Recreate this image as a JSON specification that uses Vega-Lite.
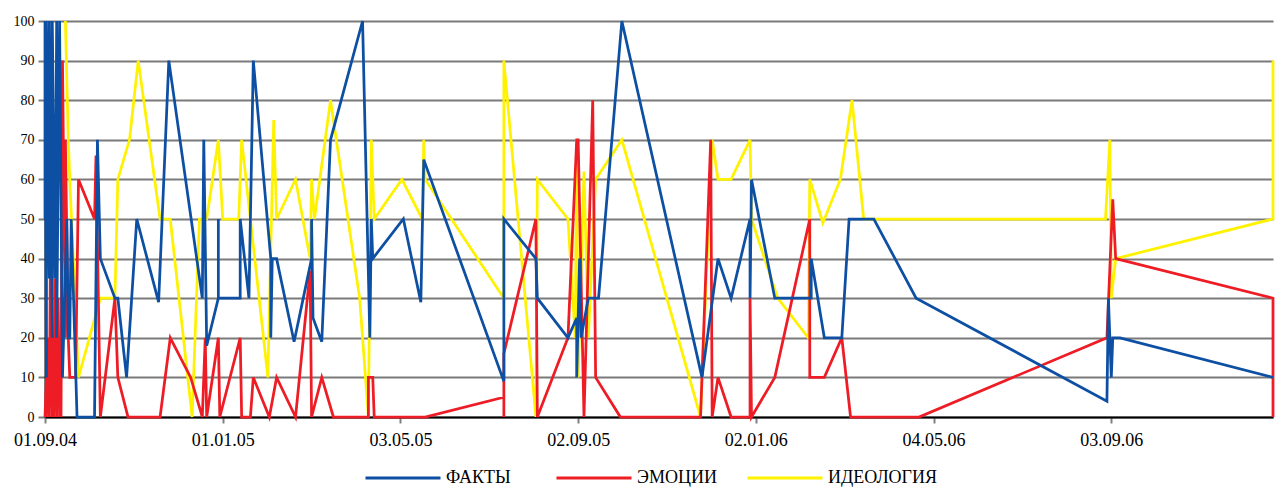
{
  "$schema": "https://vega.github.io/schema/vega-lite/v6.json",
  "width": 1228,
  "height": 396,
  "autosize": {"type": "none"},
  "padding": {"left": 45, "top": 21, "right": 2, "bottom": 72},
  "background": "white",
  "config": {"view": {"stroke": null}, "font": "Liberation Serif"},
  "data": {"values": [
    {"s":"ИДЕОЛОГИЯ","i":6,"d":"2004-09-15","v":100},
    {"s":"ИДЕОЛОГИЯ","i":7,"d":"2004-09-17","v":70},
    {"s":"ИДЕОЛОГИЯ","i":8,"d":"2004-09-18","v":60},
    {"s":"ИДЕОЛОГИЯ","i":9,"d":"2004-09-24","v":10},
    {"s":"ИДЕОЛОГИЯ","i":10,"d":"2004-10-09","v":30},
    {"s":"ИДЕОЛОГИЯ","i":11,"d":"2004-10-19","v":30},
    {"s":"ИДЕОЛОГИЯ","i":12,"d":"2004-10-21","v":60},
    {"s":"ИДЕОЛОГИЯ","i":13,"d":"2004-10-29","v":70},
    {"s":"ИДЕОЛОГИЯ","i":14,"d":"2004-11-04","v":90},
    {"s":"ИДЕОЛОГИЯ","i":15,"d":"2004-11-19","v":50},
    {"s":"ИДЕОЛОГИЯ","i":16,"d":"2004-11-26","v":50},
    {"s":"ИДЕОЛОГИЯ","i":17,"d":"2004-12-11","v":0},
    {"s":"ИДЕОЛОГИЯ","i":18,"d":"2004-12-16","v":50},
    {"s":"ИДЕОЛОГИЯ","i":19,"d":"2004-12-21","v":50},
    {"s":"ИДЕОЛОГИЯ","i":20,"d":"2004-12-29","v":70},
    {"s":"ИДЕОЛОГИЯ","i":21,"d":"2005-01-01","v":50},
    {"s":"ИДЕОЛОГИЯ","i":22,"d":"2005-01-12","v":50},
    {"s":"ИДЕОЛОГИЯ","i":23,"d":"2005-01-14","v":70},
    {"s":"ИДЕОЛОГИЯ","i":24,"d":"2005-02-01","v":10},
    {"s":"ИДЕОЛОГИЯ","i":25,"d":"2005-02-05","v":75},
    {"s":"ИДЕОЛОГИЯ","i":26,"d":"2005-02-07","v":50},
    {"s":"ИДЕОЛОГИЯ","i":27,"d":"2005-02-20","v":60},
    {"s":"ИДЕОЛОГИЯ","i":28,"d":"2005-03-02","v":40},
    {"s":"ИДЕОЛОГИЯ","i":29,"d":"2005-03-03","v":60},
    {"s":"ИДЕОЛОГИЯ","i":30,"d":"2005-03-05","v":50},
    {"s":"ИДЕОЛОГИЯ","i":31,"d":"2005-03-16","v":80},
    {"s":"ИДЕОЛОГИЯ","i":32,"d":"2005-04-05","v":30},
    {"s":"ИДЕОЛОГИЯ","i":33,"d":"2005-04-11","v":0},
    {"s":"ИДЕОЛОГИЯ","i":34,"d":"2005-04-13","v":70},
    {"s":"ИДЕОЛОГИЯ","i":35,"d":"2005-04-15","v":50},
    {"s":"ИДЕОЛОГИЯ","i":36,"d":"2005-05-04","v":60},
    {"s":"ИДЕОЛОГИЯ","i":37,"d":"2005-05-18","v":50},
    {"s":"ИДЕОЛОГИЯ","i":38,"d":"2005-05-19","v":70},
    {"s":"ИДЕОЛОГИЯ","i":39,"d":"2005-05-20","v":60},
    {"s":"ИДЕОЛОГИЯ","i":40,"d":"2005-07-13","v":30},
    {"s":"ИДЕОЛОГИЯ","i":41,"d":"2005-07-13","v":90},
    {"s":"ИДЕОЛОГИЯ","i":42,"d":"2005-08-04","v":0},
    {"s":"ИДЕОЛОГИЯ","i":43,"d":"2005-08-05","v":60},
    {"s":"ИДЕОЛОГИЯ","i":44,"d":"2005-08-26","v":50},
    {"s":"ИДЕОЛОГИЯ","i":45,"d":"2005-08-31","v":20},
    {"s":"ИДЕОЛОГИЯ","i":46,"d":"2005-09-01","v":70},
    {"s":"ИДЕОЛОГИЯ","i":47,"d":"2005-09-02","v":10},
    {"s":"ИДЕОЛОГИЯ","i":48,"d":"2005-09-06","v":62},
    {"s":"ИДЕОЛОГИЯ","i":49,"d":"2005-09-09","v":20},
    {"s":"ИДЕОЛОГИЯ","i":50,"d":"2005-09-14","v":60},
    {"s":"ИДЕОЛОГИЯ","i":51,"d":"2005-10-02","v":70},
    {"s":"ИДЕОЛОГИЯ","i":52,"d":"2005-11-25","v":0},
    {"s":"ИДЕОЛОГИЯ","i":53,"d":"2005-12-03","v":70},
    {"s":"ИДЕОЛОГИЯ","i":54,"d":"2005-12-07","v":60},
    {"s":"ИДЕОЛОГИЯ","i":55,"d":"2005-12-16","v":60},
    {"s":"ИДЕОЛОГИЯ","i":56,"d":"2005-12-29","v":70},
    {"s":"ИДЕОЛОГИЯ","i":57,"d":"2005-12-30","v":50},
    {"s":"ИДЕОЛОГИЯ","i":58,"d":"2006-01-17","v":30},
    {"s":"ИДЕОЛОГИЯ","i":59,"d":"2006-02-07","v":20},
    {"s":"ИДЕОЛОГИЯ","i":60,"d":"2006-02-08","v":60},
    {"s":"ИДЕОЛОГИЯ","i":61,"d":"2006-02-17","v":49},
    {"s":"ИДЕОЛОГИЯ","i":62,"d":"2006-03-01","v":60},
    {"s":"ИДЕОЛОГИЯ","i":63,"d":"2006-03-09","v":80},
    {"s":"ИДЕОЛОГИЯ","i":64,"d":"2006-03-17","v":50},
    {"s":"ИДЕОЛОГИЯ","i":65,"d":"2006-08-30","v":50},
    {"s":"ИДЕОЛОГИЯ","i":66,"d":"2006-09-02","v":70},
    {"s":"ИДЕОЛОГИЯ","i":67,"d":"2006-09-03","v":30},
    {"s":"ИДЕОЛОГИЯ","i":68,"d":"2006-09-06","v":40},
    {"s":"ИДЕОЛОГИЯ","i":69,"d":"2006-12-23","v":50},
    {"s":"ИДЕОЛОГИЯ","i":70,"d":"2006-12-23","v":90},

    {"s":"ЭМОЦИИ","i":1,"d":"2004-09-01","v":0},
    {"s":"ЭМОЦИИ","i":2,"d":"2004-09-02","v":10},
    {"s":"ЭМОЦИИ","i":3,"d":"2004-09-02","v":0},
    {"s":"ЭМОЦИИ","i":4,"d":"2004-09-03","v":20},
    {"s":"ЭМОЦИИ","i":5,"d":"2004-09-04","v":0},
    {"s":"ЭМОЦИИ","i":6,"d":"2004-09-05","v":60},
    {"s":"ЭМОЦИИ","i":7,"d":"2004-09-06","v":0},
    {"s":"ЭМОЦИИ","i":8,"d":"2004-09-06","v":20},
    {"s":"ЭМОЦИИ","i":9,"d":"2004-09-07","v":0},
    {"s":"ЭМОЦИИ","i":10,"d":"2004-09-08","v":35},
    {"s":"ЭМОЦИИ","i":11,"d":"2004-09-09","v":0},
    {"s":"ЭМОЦИИ","i":12,"d":"2004-09-09","v":20},
    {"s":"ЭМОЦИИ","i":13,"d":"2004-09-10","v":30},
    {"s":"ЭМОЦИИ","i":14,"d":"2004-09-11","v":0},
    {"s":"ЭМОЦИИ","i":15,"d":"2004-09-11","v":20},
    {"s":"ЭМОЦИИ","i":16,"d":"2004-09-12","v":0},
    {"s":"ЭМОЦИИ","i":17,"d":"2004-09-13","v":90},
    {"s":"ЭМОЦИИ","i":18,"d":"2004-09-15","v":20},
    {"s":"ЭМОЦИИ","i":19,"d":"2004-09-15","v":70},
    {"s":"ЭМОЦИИ","i":20,"d":"2004-09-17","v":20},
    {"s":"ЭМОЦИИ","i":21,"d":"2004-09-18","v":10},
    {"s":"ЭМОЦИИ","i":22,"d":"2004-09-22","v":10},
    {"s":"ЭМОЦИИ","i":23,"d":"2004-09-24","v":60},
    {"s":"ЭМОЦИИ","i":24,"d":"2004-10-05","v":50},
    {"s":"ЭМОЦИИ","i":25,"d":"2004-10-06","v":66},
    {"s":"ЭМОЦИИ","i":26,"d":"2004-10-09","v":0},
    {"s":"ЭМОЦИИ","i":27,"d":"2004-10-19","v":30},
    {"s":"ЭМОЦИИ","i":28,"d":"2004-10-21","v":10},
    {"s":"ЭМОЦИИ","i":29,"d":"2004-10-28","v":0},
    {"s":"ЭМОЦИИ","i":30,"d":"2004-11-19","v":0},
    {"s":"ЭМОЦИИ","i":31,"d":"2004-11-26","v":20},
    {"s":"ЭМОЦИИ","i":32,"d":"2004-12-10","v":10},
    {"s":"ЭМОЦИИ","i":33,"d":"2004-12-18","v":0},
    {"s":"ЭМОЦИИ","i":34,"d":"2004-12-20","v":20},
    {"s":"ЭМОЦИИ","i":35,"d":"2004-12-21","v":0},
    {"s":"ЭМОЦИИ","i":36,"d":"2004-12-29","v":20},
    {"s":"ЭМОЦИИ","i":37,"d":"2004-12-30","v":0},
    {"s":"ЭМОЦИИ","i":38,"d":"2005-01-13","v":20},
    {"s":"ЭМОЦИИ","i":39,"d":"2005-01-14","v":0},
    {"s":"ЭМОЦИИ","i":40,"d":"2005-01-20","v":0},
    {"s":"ЭМОЦИИ","i":41,"d":"2005-01-22","v":10},
    {"s":"ЭМОЦИИ","i":42,"d":"2005-02-02","v":0},
    {"s":"ЭМОЦИИ","i":43,"d":"2005-02-07","v":10},
    {"s":"ЭМОЦИИ","i":44,"d":"2005-02-20","v":0},
    {"s":"ЭМОЦИИ","i":45,"d":"2005-03-02","v":37},
    {"s":"ЭМОЦИИ","i":46,"d":"2005-03-03","v":0},
    {"s":"ЭМОЦИИ","i":47,"d":"2005-03-10","v":10},
    {"s":"ЭМОЦИИ","i":48,"d":"2005-03-18","v":0},
    {"s":"ЭМОЦИИ","i":49,"d":"2005-04-11","v":0},
    {"s":"ЭМОЦИИ","i":50,"d":"2005-04-11","v":10},
    {"s":"ЭМОЦИИ","i":51,"d":"2005-04-14","v":10},
    {"s":"ЭМОЦИИ","i":52,"d":"2005-04-15","v":0},
    {"s":"ЭМОЦИИ","i":53,"d":"2005-05-20","v":0},
    {"s":"ЭМОЦИИ","i":54,"d":"2005-07-13","v":5},
    {"s":"ЭМОЦИИ","i":55,"d":"2005-07-13","v":0},
    {"s":"ЭМОЦИИ","i":56,"d":"2005-07-13","v":16},
    {"s":"ЭМОЦИИ","i":57,"d":"2005-08-04","v":50},
    {"s":"ЭМОЦИИ","i":58,"d":"2005-08-05","v":0},
    {"s":"ЭМОЦИИ","i":59,"d":"2005-08-26","v":20},
    {"s":"ЭМОЦИИ","i":60,"d":"2005-09-01","v":70},
    {"s":"ЭМОЦИИ","i":61,"d":"2005-09-02","v":70},
    {"s":"ЭМОЦИИ","i":62,"d":"2005-09-06","v":0},
    {"s":"ЭМОЦИИ","i":63,"d":"2005-09-12","v":80},
    {"s":"ЭМОЦИИ","i":64,"d":"2005-09-14","v":10},
    {"s":"ЭМОЦИИ","i":65,"d":"2005-10-01","v":0},
    {"s":"ЭМОЦИИ","i":66,"d":"2005-11-25","v":0},
    {"s":"ЭМОЦИИ","i":67,"d":"2005-12-02","v":70},
    {"s":"ЭМОЦИИ","i":68,"d":"2005-12-03","v":0},
    {"s":"ЭМОЦИИ","i":69,"d":"2005-12-07","v":10},
    {"s":"ЭМОЦИИ","i":70,"d":"2005-12-16","v":0},
    {"s":"ЭМОЦИИ","i":71,"d":"2005-12-29","v":0},
    {"s":"ЭМОЦИИ","i":72,"d":"2005-12-29","v":30},
    {"s":"ЭМОЦИИ","i":73,"d":"2005-12-30","v":0},
    {"s":"ЭМОЦИИ","i":74,"d":"2006-01-15","v":10},
    {"s":"ЭМОЦИИ","i":75,"d":"2006-02-08","v":50},
    {"s":"ЭМОЦИИ","i":76,"d":"2006-02-08","v":10},
    {"s":"ЭМОЦИИ","i":77,"d":"2006-02-18","v":10},
    {"s":"ЭМОЦИИ","i":78,"d":"2006-03-02","v":20},
    {"s":"ЭМОЦИИ","i":79,"d":"2006-03-08","v":0},
    {"s":"ЭМОЦИИ","i":80,"d":"2006-04-24","v":0},
    {"s":"ЭМОЦИИ","i":81,"d":"2006-08-31","v":20},
    {"s":"ЭМОЦИИ","i":82,"d":"2006-09-04","v":55},
    {"s":"ЭМОЦИИ","i":83,"d":"2006-09-06","v":40},
    {"s":"ЭМОЦИИ","i":84,"d":"2006-12-23","v":30},
    {"s":"ЭМОЦИИ","i":85,"d":"2006-12-23","v":0},

    {"s":"ФАКТЫ","i":1,"d":"2004-09-01","v":50},
    {"s":"ФАКТЫ","i":2,"d":"2004-09-01","v":100},
    {"s":"ФАКТЫ","i":3,"d":"2004-09-02","v":10},
    {"s":"ФАКТЫ","i":4,"d":"2004-09-02","v":100},
    {"s":"ФАКТЫ","i":5,"d":"2004-09-04","v":35},
    {"s":"ФАКТЫ","i":6,"d":"2004-09-04","v":100},
    {"s":"ФАКТЫ","i":7,"d":"2004-09-06","v":20},
    {"s":"ФАКТЫ","i":8,"d":"2004-09-06","v":100},
    {"s":"ФАКТЫ","i":9,"d":"2004-09-08","v":35},
    {"s":"ФАКТЫ","i":10,"d":"2004-09-09","v":100},
    {"s":"ФАКТЫ","i":11,"d":"2004-09-09","v":20},
    {"s":"ФАКТЫ","i":12,"d":"2004-09-11","v":100},
    {"s":"ФАКТЫ","i":13,"d":"2004-09-13","v":10},
    {"s":"ФАКТЫ","i":14,"d":"2004-09-16","v":50},
    {"s":"ФАКТЫ","i":15,"d":"2004-09-17","v":20},
    {"s":"ФАКТЫ","i":16,"d":"2004-09-18","v":20},
    {"s":"ФАКТЫ","i":17,"d":"2004-09-19","v":50},
    {"s":"ФАКТЫ","i":18,"d":"2004-09-23","v":0},
    {"s":"ФАКТЫ","i":19,"d":"2004-10-05","v":0},
    {"s":"ФАКТЫ","i":20,"d":"2004-10-07","v":70},
    {"s":"ФАКТЫ","i":21,"d":"2004-10-09","v":40},
    {"s":"ФАКТЫ","i":22,"d":"2004-10-19","v":30},
    {"s":"ФАКТЫ","i":23,"d":"2004-10-21","v":30},
    {"s":"ФАКТЫ","i":24,"d":"2004-10-27","v":10},
    {"s":"ФАКТЫ","i":25,"d":"2004-11-03","v":50},
    {"s":"ФАКТЫ","i":26,"d":"2004-11-18","v":29},
    {"s":"ФАКТЫ","i":27,"d":"2004-11-25","v":90},
    {"s":"ФАКТЫ","i":28,"d":"2004-12-18","v":30},
    {"s":"ФАКТЫ","i":29,"d":"2004-12-19","v":70},
    {"s":"ФАКТЫ","i":30,"d":"2004-12-21","v":18},
    {"s":"ФАКТЫ","i":31,"d":"2004-12-29","v":30},
    {"s":"ФАКТЫ","i":32,"d":"2004-12-29","v":50},
    {"s":"ФАКТЫ","i":33,"d":"2004-12-29","v":30},
    {"s":"ФАКТЫ","i":34,"d":"2005-01-13","v":30},
    {"s":"ФАКТЫ","i":35,"d":"2005-01-13","v":50},
    {"s":"ФАКТЫ","i":36,"d":"2005-01-19","v":30},
    {"s":"ФАКТЫ","i":37,"d":"2005-01-22","v":90},
    {"s":"ФАКТЫ","i":38,"d":"2005-02-03","v":40},
    {"s":"ФАКТЫ","i":39,"d":"2005-02-03","v":20},
    {"s":"ФАКТЫ","i":40,"d":"2005-02-04","v":40},
    {"s":"ФАКТЫ","i":41,"d":"2005-02-07","v":40},
    {"s":"ФАКТЫ","i":42,"d":"2005-02-19","v":19},
    {"s":"ФАКТЫ","i":43,"d":"2005-03-03","v":40},
    {"s":"ФАКТЫ","i":44,"d":"2005-03-03","v":50},
    {"s":"ФАКТЫ","i":45,"d":"2005-03-04","v":25},
    {"s":"ФАКТЫ","i":46,"d":"2005-03-10","v":19},
    {"s":"ФАКТЫ","i":47,"d":"2005-03-16","v":70},
    {"s":"ФАКТЫ","i":48,"d":"2005-04-07","v":100},
    {"s":"ФАКТЫ","i":49,"d":"2005-04-12","v":20},
    {"s":"ФАКТЫ","i":50,"d":"2005-04-13","v":50},
    {"s":"ФАКТЫ","i":51,"d":"2005-04-14","v":40},
    {"s":"ФАКТЫ","i":52,"d":"2005-05-05","v":50},
    {"s":"ФАКТЫ","i":53,"d":"2005-05-17","v":29},
    {"s":"ФАКТЫ","i":54,"d":"2005-05-19","v":65},
    {"s":"ФАКТЫ","i":55,"d":"2005-07-13","v":9},
    {"s":"ФАКТЫ","i":56,"d":"2005-07-13","v":50},
    {"s":"ФАКТЫ","i":57,"d":"2005-08-04","v":40},
    {"s":"ФАКТЫ","i":58,"d":"2005-08-05","v":30},
    {"s":"ФАКТЫ","i":59,"d":"2005-08-26","v":20},
    {"s":"ФАКТЫ","i":60,"d":"2005-09-01","v":25},
    {"s":"ФАКТЫ","i":61,"d":"2005-09-01","v":10},
    {"s":"ФАКТЫ","i":62,"d":"2005-09-03","v":40},
    {"s":"ФАКТЫ","i":63,"d":"2005-09-04","v":20},
    {"s":"ФАКТЫ","i":64,"d":"2005-09-09","v":30},
    {"s":"ФАКТЫ","i":65,"d":"2005-09-16","v":30},
    {"s":"ФАКТЫ","i":66,"d":"2005-10-02","v":100},
    {"s":"ФАКТЫ","i":67,"d":"2005-11-26","v":10},
    {"s":"ФАКТЫ","i":68,"d":"2005-12-07","v":40},
    {"s":"ФАКТЫ","i":69,"d":"2005-12-16","v":30},
    {"s":"ФАКТЫ","i":70,"d":"2005-12-29","v":50},
    {"s":"ФАКТЫ","i":71,"d":"2005-12-29","v":30},
    {"s":"ФАКТЫ","i":72,"d":"2005-12-30","v":60},
    {"s":"ФАКТЫ","i":73,"d":"2006-01-15","v":30},
    {"s":"ФАКТЫ","i":74,"d":"2006-02-09","v":30},
    {"s":"ФАКТЫ","i":75,"d":"2006-02-09","v":40},
    {"s":"ФАКТЫ","i":76,"d":"2006-02-18","v":20},
    {"s":"ФАКТЫ","i":77,"d":"2006-03-02","v":20},
    {"s":"ФАКТЫ","i":78,"d":"2006-03-07","v":50},
    {"s":"ФАКТЫ","i":79,"d":"2006-03-24","v":50},
    {"s":"ФАКТЫ","i":80,"d":"2006-04-22","v":30},
    {"s":"ФАКТЫ","i":81,"d":"2006-08-31","v":4},
    {"s":"ФАКТЫ","i":82,"d":"2006-09-01","v":30},
    {"s":"ФАКТЫ","i":83,"d":"2006-09-03","v":10},
    {"s":"ФАКТЫ","i":84,"d":"2006-09-04","v":20},
    {"s":"ФАКТЫ","i":85,"d":"2006-09-09","v":20},
    {"s":"ФАКТЫ","i":86,"d":"2006-12-23","v":10}
  ]},
  "mark": {"type": "line", "strokeWidth": 2.75, "strokeJoin": "miter"},
  "encoding": {
    "x": {
      "field": "d", "type": "temporal",
      "scale": {"type": "utc", "domain": [{"year": 2004, "month": 9, "date": 1, "utc": true}, {"year": 2006, "month": 12, "date": 23, "utc": true}]},
      "axis": {
        "title": null, "grid": false, "format": "%d.%m.%y",
        "values": [
          {"year": 2004, "month": 9, "date": 1, "utc": true},
          {"year": 2005, "month": 1, "date": 1, "utc": true},
          {"year": 2005, "month": 5, "date": 3, "utc": true},
          {"year": 2005, "month": 9, "date": 2, "utc": true},
          {"year": 2006, "month": 1, "date": 2, "utc": true},
          {"year": 2006, "month": 5, "date": 4, "utc": true},
          {"year": 2006, "month": 9, "date": 3, "utc": true}
        ],
        "labelFont": "Liberation Serif", "labelFontSize": 18, "labelColor": "#000000",
        "labelPadding": 8, "labelFlush": false, "labelOverlap": false,
        "tickColor": "#808080", "tickSize": 6, "tickWidth": 2,
        "domainColor": "#000000", "domainWidth": 2
      }
    },
    "y": {
      "field": "v", "type": "quantitative",
      "scale": {"domain": [0, 100], "nice": false},
      "axis": {
        "title": null, "values": [0, 10, 20, 30, 40, 50, 60, 70, 80, 90, 100],
        "grid": true, "gridColor": "#7a7a7a", "gridWidth": 2,
        "tickColor": "#7a7a7a", "tickSize": 7, "tickWidth": 2,
        "domainColor": "#000000", "domainWidth": 2,
        "labelFont": "Liberation Serif", "labelFontSize": 14, "labelColor": "#000000", "labelPadding": 4
      }
    },
    "color": {
      "field": "s", "type": "nominal",
      "scale": {"domain": ["ФАКТЫ", "ЭМОЦИИ", "ИДЕОЛОГИЯ"], "range": ["#0D4FA3", "#EE1C25", "#FFF200"]},
      "legend": {
        "title": null, "orient": "none", "legendX": 319, "legendY": 418,
        "direction": "horizontal", "columns": 3, "gridAlign": "all", "columnPadding": -20,
        "symbolType": "stroke", "symbolSize": 5625, "symbolStrokeWidth": 3,
        "labelFont": "Liberation Serif", "labelFontSize": 18, "labelColor": "#000000", "labelOffset": 4
      }
    },
    "order": {"field": "i", "type": "quantitative"}
  }
}
